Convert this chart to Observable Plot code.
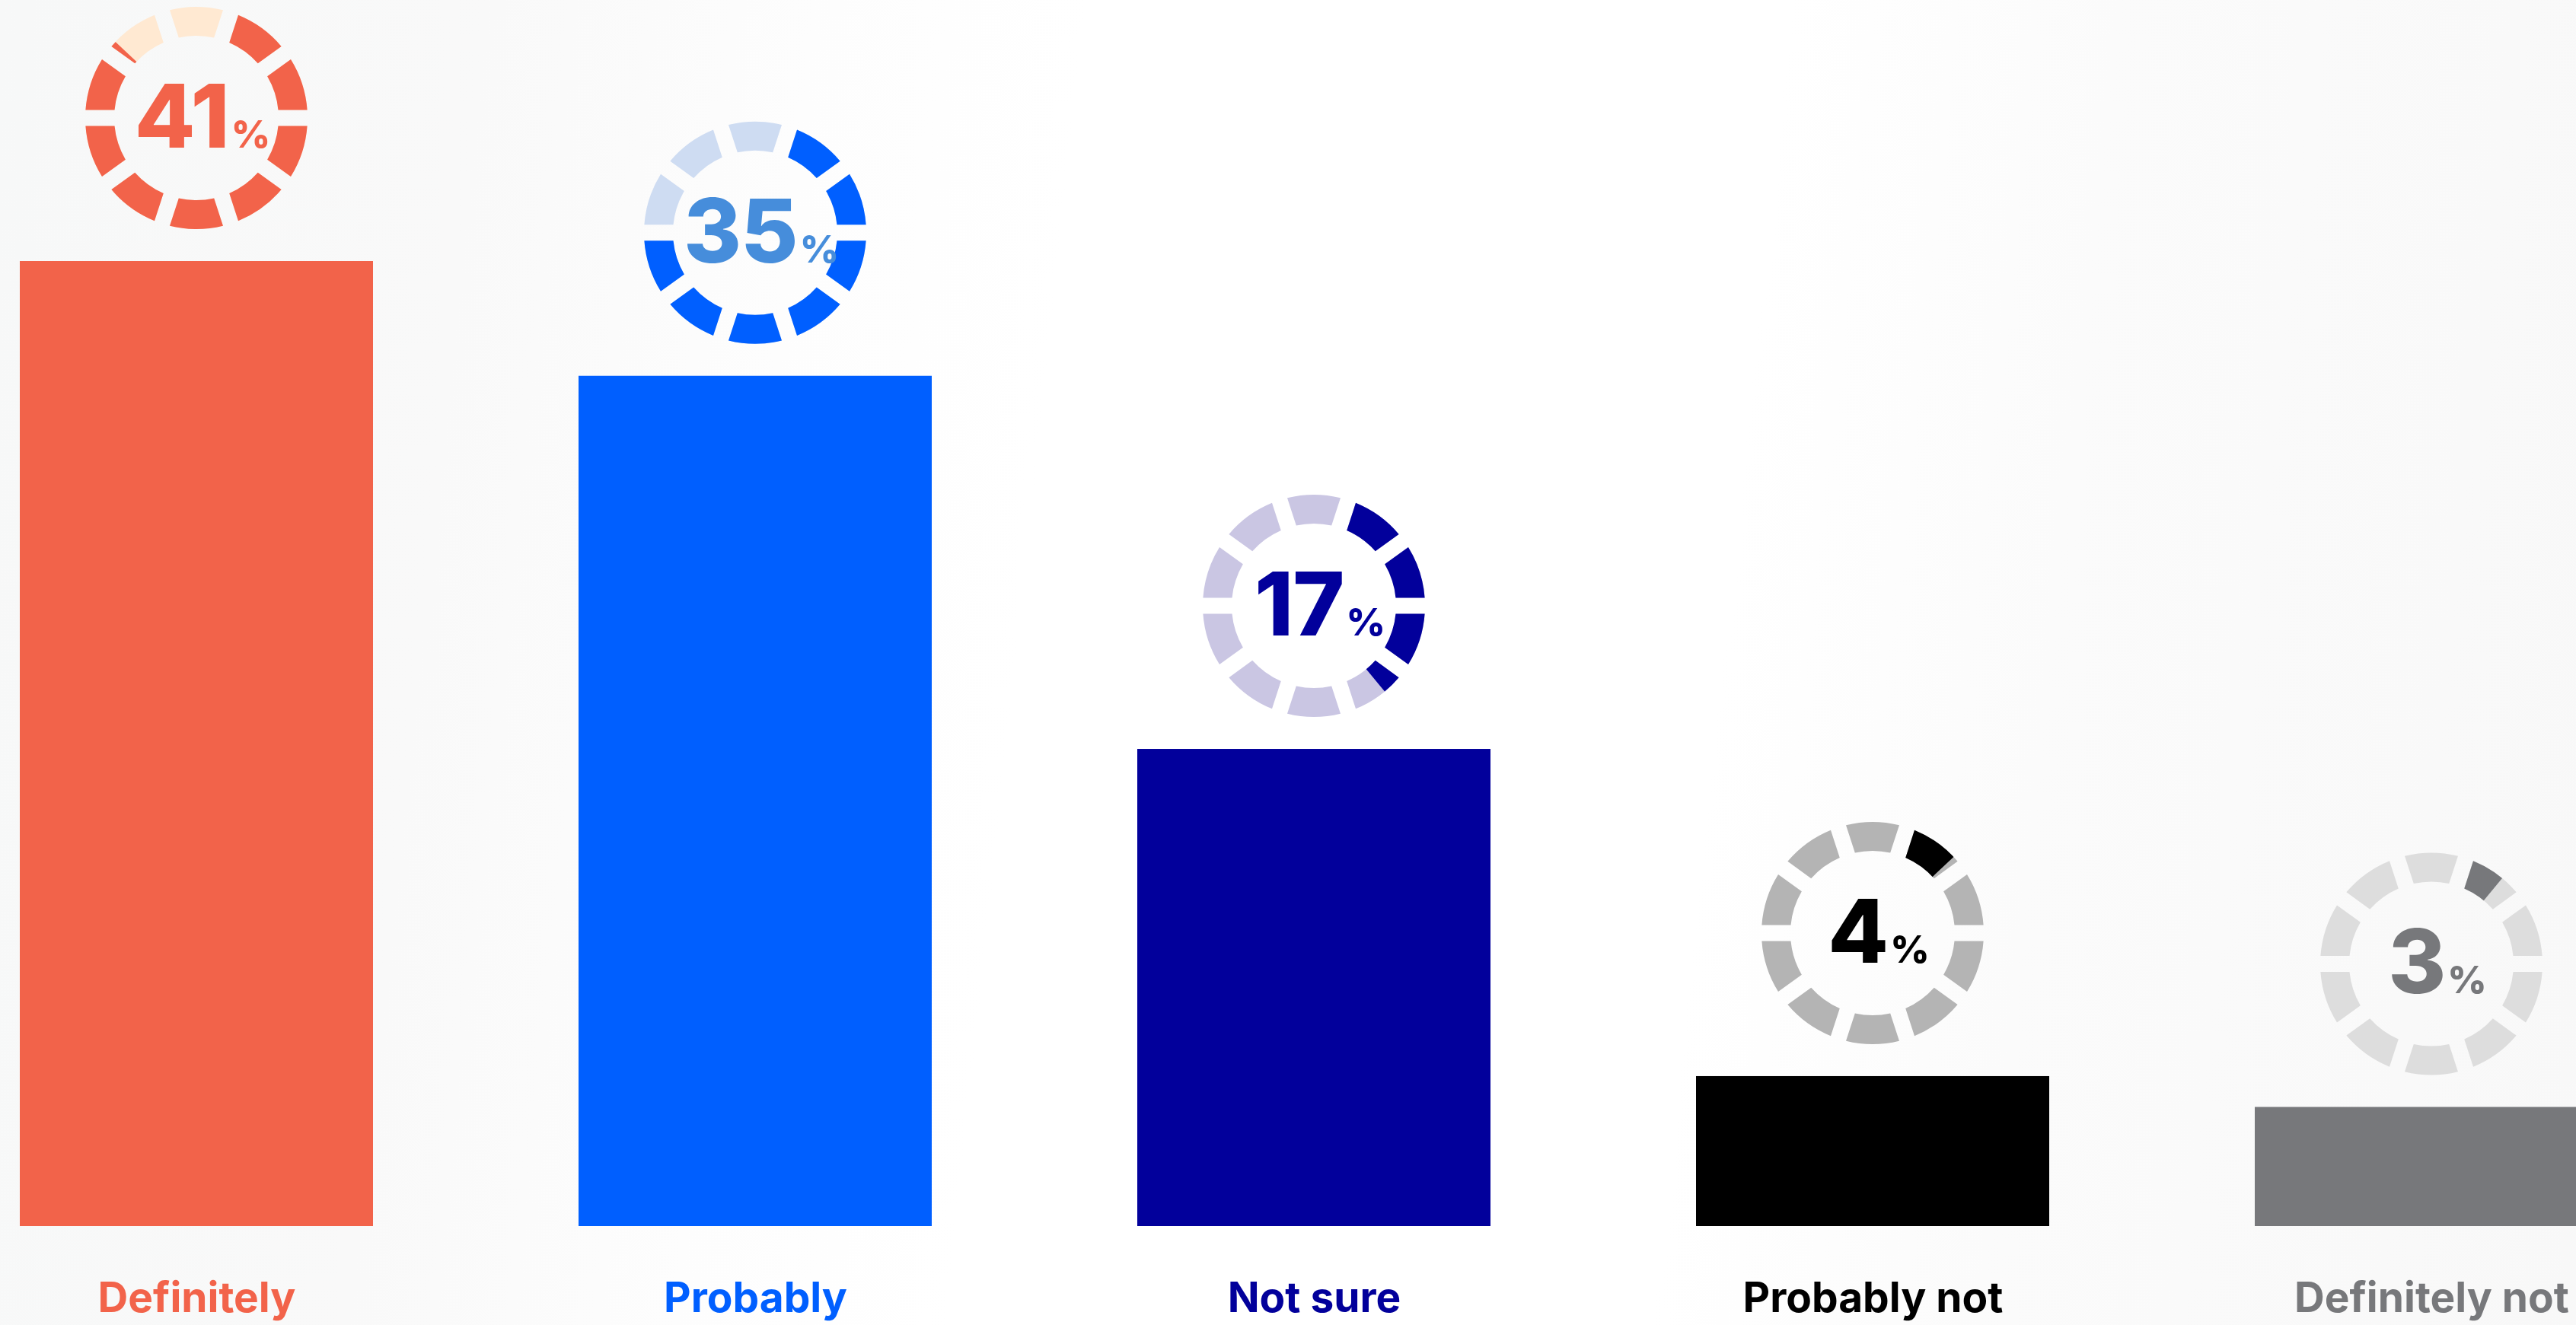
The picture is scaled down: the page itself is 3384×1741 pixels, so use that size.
<!DOCTYPE html>
<html>
<head>
<meta charset="utf-8">
<script src="https://cdn.jsdelivr.net/npm/d3@7"></script>
<script src="https://cdn.jsdelivr.net/npm/@observablehq/plot@0.6"></script>
<style>
  html, body { margin: 0; padding: 0; width: 3384px; height: 1741px; overflow: hidden; }
  body {
    background: linear-gradient(96deg, #f7f8f8 0%, #f9f9f9 18%, #fdfdfd 30%, #ffffff 40%, #ffffff 66%, #fbfbfb 78%, #f8f8f8 100%);
  }
  #chart svg { display: block; }
</style>
</head>
<body>
<div id="chart"></div>
<script>
// ---- data ----
const categories = ["Definitely", "Probably", "Not sure", "Probably not", "Definitely not"];
const values = [41, 35, 17, 4, 3];

// ---- styles ----
const barColors = ["#f2634a", "#005fff", "#02009b", "#000000", "#77787b"];
const lightColors = ["#ffe9d2", "#cedcf2", "#cac6e3", "#b4b4b4", "#dddddd"];
const numberColors = ["#f2634a", "#468ddb", "#02009b", "#000000", "#77787b"];

const gaugeMax = 50;      // a full ring represents 50 %
const segments = 10;
const ringOuter = 146, ringInner = 108, ringPad = 0.116, ringOffset = 188;

const data = categories.map((c, i) => ({
  category: c, value: values[i],
  bar: barColors[i], light: lightColors[i], num: numberColors[i]
}));

function gaugeRender(index, scales, vals) {
  const g = d3.create("svg:g");
  const half = scales.x && scales.x.bandwidth ? scales.x.bandwidth() / 2 : 0;
  const seg = 2 * Math.PI / segments;
  const arcSeg = d3.arc().innerRadius(ringInner).outerRadius(ringOuter).padAngle(ringPad);
  const defs = g.append("defs");
  for (const i of index) {
    const d = data[i];
    const cx = vals.x[i] + half;
    const cy = vals.y[i] - ringOffset;
    const start = seg / 2;
    const end = start + (d.value / gaugeMax) * 2 * Math.PI;
    const clipId = "gauge-clip-" + i;
    defs.append("clipPath").attr("id", clipId)
      .append("path")
      .attr("d", d3.arc().innerRadius(0).outerRadius(ringOuter + 20).startAngle(start).endAngle(end)());
    const ring = g.append("g").attr("transform", `translate(${cx},${cy})`);
    const segs = d3.range(segments).map(k => ({startAngle: (k - 0.5) * seg, endAngle: (k + 0.5) * seg}));
    ring.append("g").selectAll("path").data(segs).join("path")
      .attr("d", arcSeg).attr("fill", d.light);
    ring.append("g").attr("clip-path", `url(#${clipId})`)
      .selectAll("path").data(segs).join("path")
      .attr("d", arcSeg).attr("fill", d.bar);
    const t = ring.append("text")
      .attr("x", 8).attr("y", 39)
      .attr("text-anchor", "middle")
      .attr("font-family", "Inter, sans-serif")
      .attr("font-weight", 800)
      .attr("fill", d.num);
    t.append("tspan").attr("font-size", 116).attr("letter-spacing", -1).text(String(d.value));
    t.append("tspan").attr("font-size", 50).attr("dx", 3).text("%");
  }
  return g.node();
}

const chart = Plot.plot({
  width: 3431,
  height: 1741,
  marginLeft: 26,
  marginRight: 0,
  marginTop: 343,
  marginBottom: 130,
  x: {type: "band", domain: categories, paddingInner: 0.3673, paddingOuter: 0, align: 0, axis: null},
  y: {type: "pow", exponent: 0.8, domain: [0, 41], axis: null},
  style: {background: "transparent", maxWidth: "none", overflow: "hidden"},
  marks: [
    Plot.barY(data, {x: "category", y: "value", fill: d => d.bar}),
    Plot.dot(data, {x: "category", y: "value", r: 1, render: gaugeRender}),
    Plot.text(data, {
      x: "category", text: "category", fill: d => d.bar,
      frameAnchor: "bottom", dy: 112,
      fontSize: 55, fontWeight: 700, fontFamily: "Inter, sans-serif"
    })
  ]
});
document.getElementById("chart").appendChild(chart);
</script>
</body>
</html>
